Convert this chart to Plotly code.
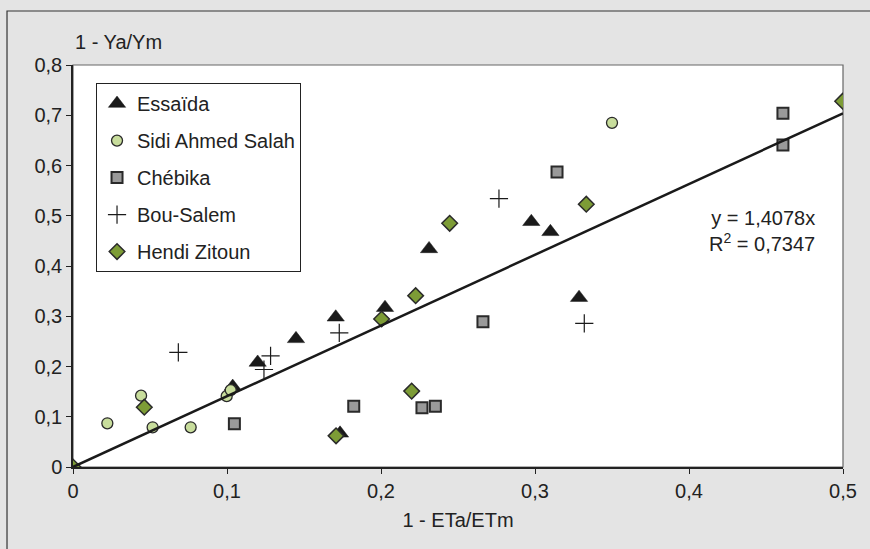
import plotly.graph_objects as go

# ---- data ----
essaida_x = [0.1037, 0.1199, 0.1448, 0.1706, 0.1734, 0.2026, 0.2312, 0.2976, 0.3100, 0.3286]
essaida_y = [0.160, 0.208, 0.255, 0.298, 0.067, 0.317, 0.434, 0.488, 0.468, 0.337]

sidi_x = [0.0223, 0.0442, 0.0517, 0.0764, 0.0998, 0.1024, 0.3500]
sidi_y = [0.087, 0.142, 0.079, 0.079, 0.141, 0.153, 0.685]

chebika_x = [0.1048, 0.1823, 0.2266, 0.2353, 0.2662, 0.3143, 0.4610, 0.4610]
chebika_y = [0.086, 0.121, 0.118, 0.121, 0.289, 0.587, 0.704, 0.641]

bousalem_x = [0.0684, 0.1240, 0.1283, 0.1729, 0.2766, 0.3320]
bousalem_y = [0.228, 0.194, 0.221, 0.267, 0.534, 0.286]

hendi_x = [0.0, 0.0463, 0.1708, 0.2004, 0.2199, 0.2225, 0.2446, 0.3333, 0.4998]
hendi_y = [0.0, 0.119, 0.062, 0.2945, 0.151, 0.341, 0.485, 0.523, 0.728]

slope = 1.4078
r2 = 0.7347
trend_x = [0.0, 0.5]
trend_y = [slope * v for v in trend_x]

x_ticks = [0, 0.1, 0.2, 0.3, 0.4, 0.5]
y_ticks = [0, 0.1, 0.2, 0.3, 0.4, 0.5, 0.6, 0.7, 0.8]

FONT = "Liberation Sans, Arial, Helvetica, sans-serif"
TXT = "#222222"
DARK = "#1a1a1a"

fig = go.Figure()

fig.add_trace(go.Scatter(
    x=essaida_x, y=essaida_y, mode="markers", name="Essaïda", legendgroup="a",
    marker=dict(symbol="triangle-up", size=15, color=DARK, line=dict(color=DARK, width=0.5))))
fig.add_trace(go.Scatter(
    x=sidi_x, y=sidi_y, mode="markers", name="Sidi Ahmed Salah", legendgroup="b",
    marker=dict(symbol="circle", size=11, color="#c8dd9c", line=dict(color="#2a2a2a", width=1.3))))
fig.add_trace(go.Scatter(
    x=chebika_x, y=chebika_y, mode="markers", name="Chébika", legendgroup="c",
    marker=dict(symbol="square", size=11, color="#9a9a9a", line=dict(color="#2a2a2a", width=2))))
fig.add_trace(go.Scatter(
    x=bousalem_x, y=bousalem_y, mode="markers", name="Bou-Salem", legendgroup="d",
    marker=dict(symbol="cross-thin-open", size=13, color=DARK, line=dict(color=DARK, width=1.2))))
fig.add_trace(go.Scatter(
    x=hendi_x, y=hendi_y, mode="markers", name="Hendi Zitoun", legendgroup="e",
    marker=dict(symbol="diamond", size=12, color="#7d9c36", line=dict(color="#2a2a2a", width=1.5))))
fig.add_trace(go.Scatter(
    x=trend_x, y=trend_y, mode="lines", showlegend=False, hoverinfo="skip",
    line=dict(color=DARK, width=2.5)))

fig.update_layout(
    width=870, height=549,
    margin=dict(l=73, r=27, t=65, b=82, autoexpand=False),
    paper_bgcolor="#e4e4e4", plot_bgcolor="#ffffff",
    separators=", ",
    font=dict(family=FONT, size=20, color=TXT),
    showlegend=True,
    legend=dict(
        x=0.0299, y=0.955, xanchor="left", yanchor="top",
        bgcolor="#ffffff", bordercolor="#222222", borderwidth=1,
        font=dict(family=FONT, size=20, color=TXT),
        tracegroupgap=8, itemwidth=30,
    ),
    xaxis=dict(
        range=[0, 0.5], tickvals=x_ticks, automargin=False,
        ticktext=["0"] + [f"{v:.1f}".replace(".", ",") for v in x_ticks[1:]],
        showgrid=False, zeroline=False, showline=True, linecolor="#222222", linewidth=1.5,
        ticks="outside", ticklen=5, tickcolor="#222222", tickwidth=1,
        tickfont=dict(family=FONT, size=20, color=TXT),
        title=dict(text="1 - ETa/ETm", font=dict(family=FONT, size=20, color=TXT), standoff=12),
    ),
    yaxis=dict(
        range=[0, 0.8], tickvals=y_ticks, automargin=False,
        ticktext=["0"] + [f"{v:.1f}".replace(".", ",") for v in y_ticks[1:]],
        showgrid=False, zeroline=False, showline=True, linecolor="#222222", linewidth=1.5,
        ticks="outside", ticklen=5, tickcolor="#222222", tickwidth=1,
        tickfont=dict(family=FONT, size=20, color=TXT),
    ),
    shapes=[
        dict(type="rect", xref="paper", yref="paper", x0=-0.0857, x1=1.3, y0=-0.5, y1=1.1343,
             line=dict(color="#333333", width=1.2), fillcolor="rgba(0,0,0,0)", layer="below"),
        dict(type="rect", xref="paper", yref="paper", x0=0, x1=1, y0=0, y1=1,
             line=dict(color="#666666", width=1.2), fillcolor="rgba(0,0,0,0)", layer="below"),
    ],
    annotations=[
        dict(text="1 - Ya/Ym", xref="paper", yref="paper", x=0, y=1.0, xanchor="left",
             yanchor="bottom", yshift=10, showarrow=False, font=dict(family=FONT, size=20, color=TXT)),
        dict(text="y = 1,4078x<br>R<sup>2</sup> = 0,7347", xref="paper", yref="paper",
             x=0.966, y=0.586, xanchor="right", yanchor="middle", align="right",
             showarrow=False, font=dict(family=FONT, size=20, color=TXT)),
    ],
)

fig.write_html(
    "out.html",
    config={"displayModeBar": False},
    post_script="document.body.style.margin='0';document.body.style.padding='0';document.body.style.overflow='hidden';",
)
